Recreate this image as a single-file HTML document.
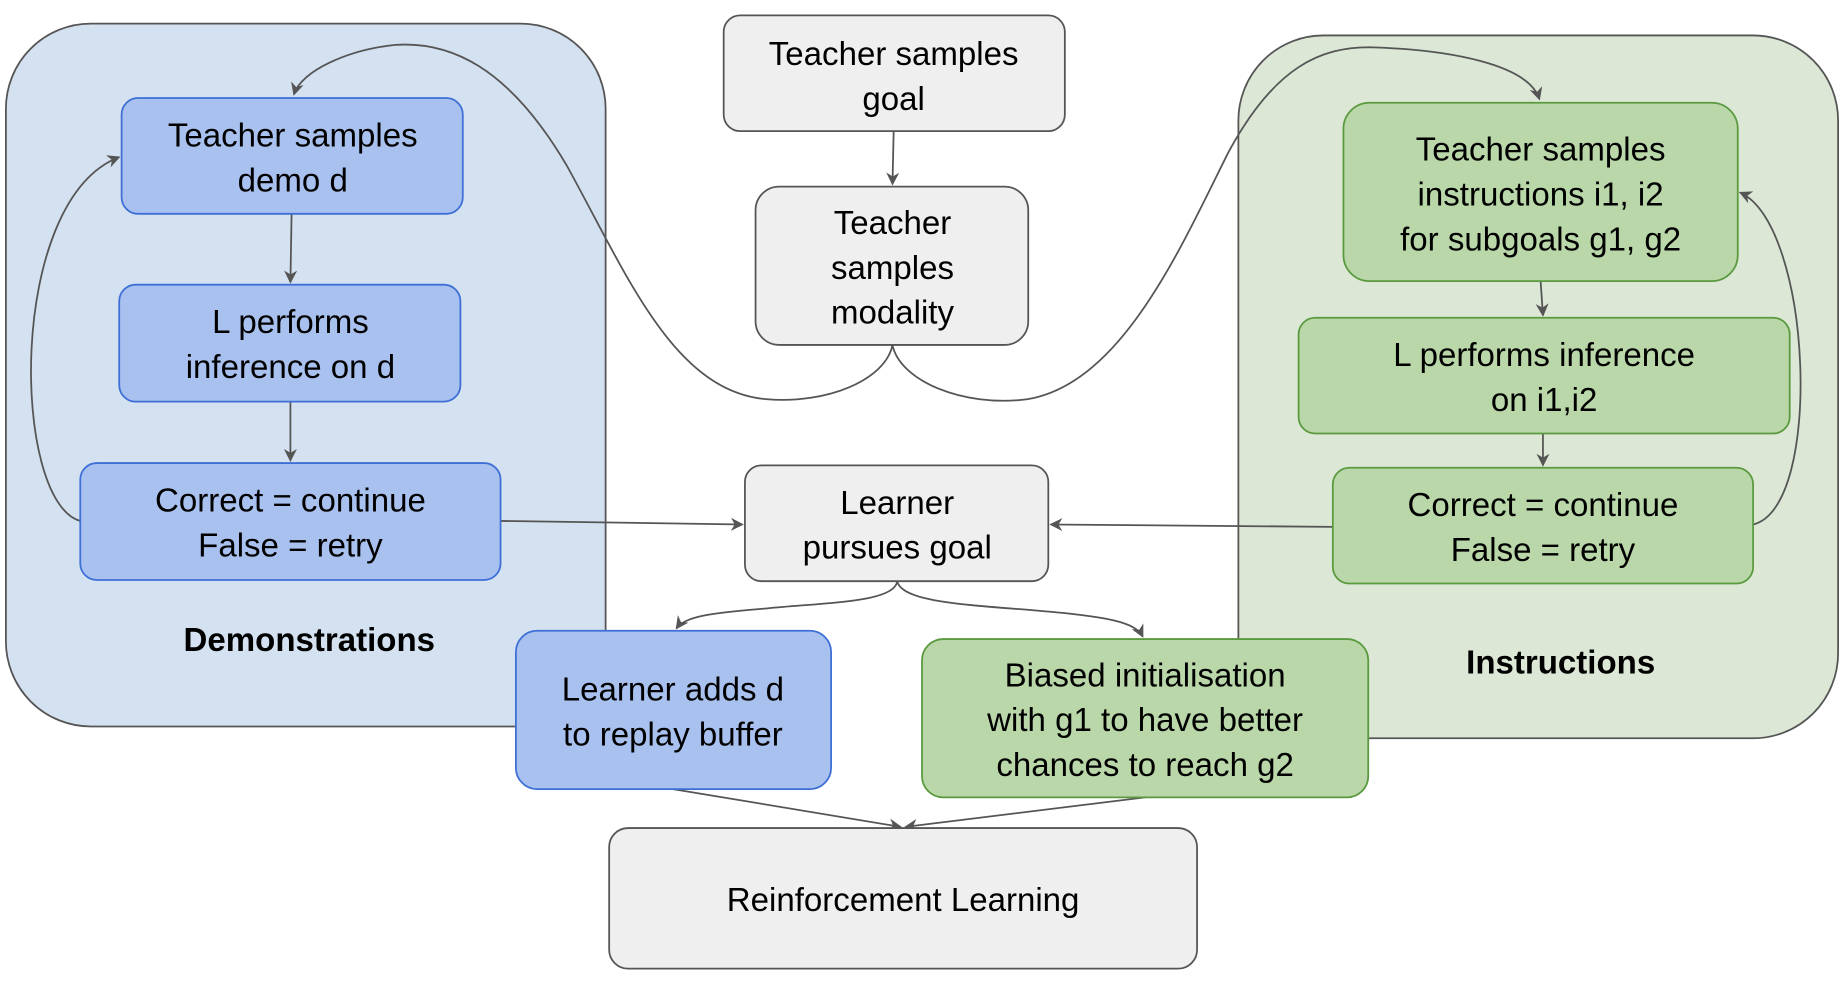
<!DOCTYPE html>
<html><head><meta charset="utf-8"><style>
html,body{margin:0;padding:0;background:#fff;width:1844px;height:984px;overflow:hidden}
svg{display:block}
text{font-family:"Liberation Sans",Arial,sans-serif;font-size:28px;fill:#000;text-anchor:middle}
</style></head><body>
<svg width="1844" height="984" viewBox="0 0 1562 833" preserveAspectRatio="none" xmlns="http://www.w3.org/2000/svg">
<defs>
<marker id="a" viewBox="0 0 10 10" refX="9" refY="5" markerWidth="11" markerHeight="11" orient="auto" markerUnits="userSpaceOnUse">
<path d="M0,0 L10,5 L0,10 L3,5 z" fill="#555"/></marker>
</defs>
<rect x="5" y="20" width="508" height="595" rx="72" fill="#d4e1f0" stroke="#555" stroke-width="1.5"/>
<rect x="1049" y="30" width="508" height="595" rx="72" fill="#dce8d5" stroke="#555" stroke-width="1.5"/>
<text x="262" y="551" font-weight="bold">Demonstrations</text>
<text x="1322" y="570" font-weight="bold">Instructions</text>

<g fill="none" stroke="#555" stroke-width="1.5">
<path d="M756,292 C750,322 700,342 650,338 C570,332 530,230 480,140 C430,55 380,35 335,38 C295,42 255,60 249,80" marker-end="url(#a)"/>
<path d="M756,292 C762,322 815,345 870,338 C950,325 1000,210 1040,130 C1080,55 1120,40 1160,40 C1230,42 1295,55 1304,84" marker-end="url(#a)"/>
<path d="M68,441 C10,425 5,170 101,133" marker-end="url(#a)"/>
<path d="M1485,444 C1545,430 1535,190 1474,163" marker-end="url(#a)"/>
<path d="M757,111 L756,156" marker-end="url(#a)"/>
<path d="M247,181 L246,239" marker-end="url(#a)"/>
<path d="M246,340 L246,390" marker-end="url(#a)"/>
<path d="M1305,238 L1307,267" marker-end="url(#a)"/>
<path d="M1307,367 L1307,394" marker-end="url(#a)"/>
<path d="M424,441 L629,444" marker-end="url(#a)"/>
<path d="M1129,446 L890,444" marker-end="url(#a)"/>
<path d="M760,492 C758,510 700,510 650,515 C600,519 580,522 573,532" marker-end="url(#a)"/>
<path d="M760,492 C764,510 820,512 880,517 C940,522 962,527 968,539" marker-end="url(#a)"/>
<path d="M570,668 L763,700" marker-end="url(#a)"/>
<path d="M970,675 L767,700" marker-end="url(#a)"/>
</g>

<g fill="#efefef" stroke="#555" stroke-width="1.5">
<rect x="613" y="13" width="289" height="98" rx="14"/>
<rect x="640" y="158" width="231" height="134" rx="20"/>
<rect x="631" y="394" width="257" height="98" rx="14"/>
<rect x="516" y="701" width="498" height="119" rx="16"/>
</g>
<g fill="#a9c1ef" stroke="#3d6fd6" stroke-width="1.5">
<rect x="103" y="83" width="289" height="98" rx="14"/>
<rect x="101" y="241" width="289" height="99" rx="14"/>
<rect x="68" y="392" width="356" height="99" rx="14"/>
<rect x="437" y="534" width="267" height="134" rx="18"/>
</g>
<g fill="#b9d7a8" stroke="#5a9a3f" stroke-width="1.5">
<rect x="1138" y="87" width="334" height="151" rx="22"/>
<rect x="1100" y="269" width="416" height="98" rx="14"/>
<rect x="1129" y="396" width="356" height="98" rx="14"/>
<rect x="781" y="541" width="378" height="134" rx="18"/>
</g>

<text x="757" y="55">Teacher samples</text>
<text x="757" y="93">goal</text>
<text x="756" y="198">Teacher</text>
<text x="756" y="236">samples</text>
<text x="756" y="274">modality</text>
<text x="760" y="435">Learner</text>
<text x="760" y="473">pursues goal</text>
<text x="765" y="771">Reinforcement Learning</text>

<text x="248" y="124">Teacher samples</text>
<text x="248" y="162">demo d</text>
<text x="246" y="282">L performs</text>
<text x="246" y="320">inference on d</text>
<text x="246" y="433">Correct = continue</text>
<text x="246" y="471">False = retry</text>
<text x="570" y="593">Learner adds d</text>
<text x="570" y="631">to replay buffer</text>

<text x="1305" y="136">Teacher samples</text>
<text x="1305" y="174">instructions i1, i2</text>
<text x="1305" y="212">for subgoals g1, g2</text>
<text x="1308" y="310">L performs inference</text>
<text x="1308" y="348">on i1,i2</text>
<text x="1307" y="437">Correct = continue</text>
<text x="1307" y="475">False = retry</text>
<text x="970" y="581">Biased initialisation</text>
<text x="970" y="619">with g1 to have better</text>
<text x="970" y="657">chances to reach g2</text>
</svg>
</body></html>
